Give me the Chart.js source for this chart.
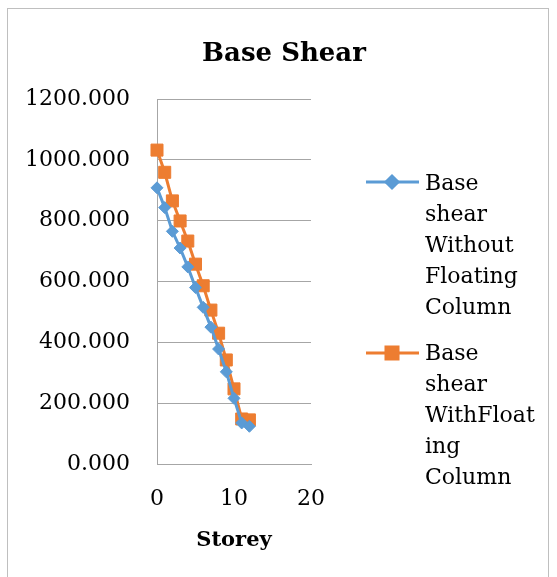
<!DOCTYPE html>
<html>
<head>
<meta charset="utf-8">
<title>Base Shear</title>
<script src="https://cdn.jsdelivr.net/npm/chart.js@4.4.0/dist/chart.umd.min.js"></script>
<style>
    body { margin: 0; background: #fff; }
    #wrap { position: relative; width: 557px; height: 577px; overflow: hidden; }
    #frame { position: absolute; left: 7px; top: 8px; width: 542px; height: 600px; border: 1px solid #bfbfbf; box-sizing: border-box; }
    #chartShear { position: absolute; left: 0; top: 0; }
</style>
</head>
<body>
<div id="wrap">
    <div id="frame"></div>
    <canvas id="chartShear" width="557" height="577"></canvas>
</div>
<script>
let storeys = [0, 1, 2, 3, 4, 5, 6, 7, 8, 9, 10, 11, 12];
let shearWithout = [908, 843, 765, 710, 648, 580, 515, 450, 378, 303, 216, 135, 124];
let shearWith = [1032, 959, 865, 799, 733, 657, 586, 506, 430, 342, 247, 148, 145];

let yTicks = [0, 200, 400, 600, 800, 1000, 1200];
let xTicks = [0, 10, 20];

// legend text is wrapped by hand, one entry per line
let legendWithout = ['Base', 'shear', 'Without', 'Floating', 'Column'];
let legendWith = ['Base', 'shear', 'WithFloat', 'ing', 'Column'];

let blue = '#5B9BD5';
let orange = '#ED7D31';
let grey = '#a6a6a6';
let serif = "'DejaVu Serif', serif";

function points(xs, ys) {
    return xs.map((x, i) => ({ x: x, y: ys[i] }));
}

// title and the wrapped legend on the right
let sidePlugin = {
    id: 'side',
    afterDraw(chart) {
        let ctx = chart.ctx;
        ctx.save();
        ctx.fillStyle = '#000';
        ctx.font = "bold 26px " + serif;
        ctx.textAlign = 'center';
        ctx.textBaseline = 'alphabetic';
        ctx.fillText('Base Shear', 284, 61);

        let entries = [
            { ds: chart.data.datasets[0], lines: legendWithout, y: 182, base: 190 },
            { ds: chart.data.datasets[1], lines: legendWith, y: 353, base: 360 }
        ];
        entries.forEach(e => {
            ctx.strokeStyle = e.ds.borderColor;
            ctx.lineWidth = 3;
            ctx.beginPath();
            ctx.moveTo(366, e.y);
            ctx.lineTo(419, e.y);
            ctx.stroke();
            Chart.helpers.drawPoint(ctx, {
                pointStyle: e.ds.pointStyle,
                radius: e.ds.pointRadius,
                rotation: 0,
                borderWidth: 1
            }, 392, e.y);
            ctx.fillStyle = e.ds.backgroundColor;
            ctx.fill();

            ctx.fillStyle = '#000';
            ctx.font = "22px " + serif;
            ctx.textAlign = 'left';
            e.lines.forEach((t, i) => {
                ctx.fillText(t, 425, e.base + i * 31);
            });
        });
        ctx.restore();
    }
};

let context = document.querySelector('#chartShear').getContext('2d');

let config = {
    type: 'scatter',
    data: {
        datasets: [{
            label: 'Base shear Without Floating Column',
            data: points(storeys, shearWithout),
            showLine: true,
            clip: false,
            borderColor: blue,
            backgroundColor: blue,
            borderWidth: 3,
            pointStyle: 'rectRot',
            pointRadius: 6,
            pointBorderWidth: 1
        }, {
            label: 'Base shear WithFloating Column',
            data: points(storeys, shearWith),
            showLine: true,
            clip: false,
            borderColor: orange,
            backgroundColor: orange,
            borderWidth: 3,
            pointStyle: 'rect',
            pointRadius: 8.5,
            pointBorderWidth: 1
        }]
    },
    options: {
        responsive: false,
        animation: false,
        layout: {
            padding: { left: 0, top: 99, right: 246, bottom: 0 }
        },
        plugins: {
            legend: { display: false },
            title: { display: false },
            tooltip: { enabled: false }
        },
        scales: {
            x: {
                type: 'linear',
                min: 0,
                max: 20,
                afterFit(scale) { scale.height = 113; },
                afterBuildTicks(scale) { scale.ticks = xTicks.map(v => ({ value: v })); },
                grid: { display: false, drawTicks: false },
                border: { display: true, color: grey, width: 1 },
                ticks: {
                    color: '#000',
                    padding: 22,
                    font: { family: serif, size: 22 }
                },
                title: {
                    display: true,
                    text: 'Storey',
                    color: '#000',
                    font: { family: serif, size: 21, weight: 'bold' },
                    padding: { top: 0, bottom: 24 }
                }
            },
            y: {
                type: 'linear',
                min: 0,
                max: 1200,
                afterFit(scale) { scale.width = 157; },
                afterBuildTicks(scale) { scale.ticks = yTicks.map(v => ({ value: v })); },
                grid: { color: grey, lineWidth: 1, drawTicks: false },
                border: { display: true, color: grey, width: 1 },
                ticks: {
                    color: '#000',
                    padding: 27,
                    font: { family: serif, size: 22 },
                    callback: v => v.toFixed(3)
                }
            }
        }
    },
    plugins: [sidePlugin]
};

let chartShear = new Chart(context, config);
</script>
</body>
</html>
